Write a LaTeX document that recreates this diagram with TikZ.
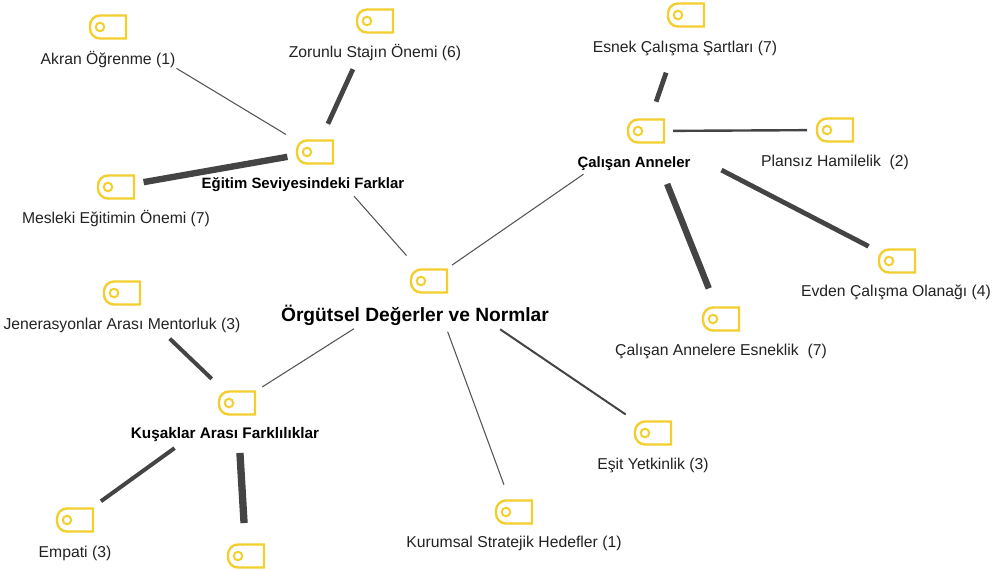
\documentclass[tikz,border=0pt]{standalone}
\usepackage{fontspec}
\setmainfont{Liberation Sans}
\definecolor{tagyellow}{HTML}{F2CE2E}
\definecolor{edgegray}{HTML}{555555}
\definecolor{edgedark}{HTML}{444444}
\definecolor{labelink}{HTML}{222222}
\tikzset{
  x=0.75pt,y=-0.75pt,
  tagbox/.style={minimum width=28.5pt,minimum height=18.75pt,inner sep=0pt,outer sep=0pt},
  tagline/.style={draw=tagyellow,line width=1.8pt},
  lab/.style={inner sep=0pt,text=labelink,font=\fontsize{11.8pt}{13pt}\selectfont},
  labbold/.style={lab,text=black,font=\fontsize{11.2pt}{13pt}\selectfont\bfseries},
  labroot/.style={lab,text=black,font=\fontsize{14.4pt}{16pt}\selectfont\bfseries},
  link/.style={edgegray},
  linkheavy/.style={edgedark},
}
\newcommand{\tagicon}[2]{%
  \node[tagbox] (#1) at (#2) {};
  \draw[tagline,shift={(#1.center)}] (18,-11.5) -- (-8,-11.5) arc[start angle=90,end angle=180,radius=7.5pt]
     -- (-18,1.5) arc[start angle=180,end angle=270,radius=7.5pt] -- (18,11.5) -- cycle;
  \draw[tagline,line width=1.5pt,shift={(#1.center)}] (-8,0) circle[radius=3.2pt];
}
\newcommand{\linkbetween}[6][link]{%
  \draw[#1,line width=#4pt,shorten <=#5*0.75pt,shorten >=#6*0.75pt] (#2.center) -- (#3.center);
}
\begin{document}
\begin{tikzpicture}
\useasboundingbox (0,0) rectangle (996,569);
\clip (0,0) rectangle (996,569);
\tagicon{root}{429,281}
\tagicon{egitim}{315,152}
\tagicon{calisan}{646,131}
\tagicon{kusak}{237,403}
\tagicon{akran}{108,27}
\tagicon{zorunlu}{375,21}
\tagicon{mesleki}{116,187}
\tagicon{esnek}{686,15}
\tagicon{plansiz}{835,130}
\tagicon{evden}{897,261}
\tagicon{cae}{721,319}
\tagicon{jener}{122,293}
\tagicon{empati}{75,520}
\tagicon{gizli}{246,556}
\tagicon{esit}{653,433}
\tagicon{kurumsal}{514,512}

\node[labroot] (lroot) at (415,315.5) {Örgütsel Değerler ve Normlar};
\node[labbold] (legitim) at (303,184.5) {Eğitim Seviyesindeki Farklar};
\node[labbold] (lcalisan) at (634,164) {Çalışan Anneler};
\node[labbold,font=\fontsize{11.5pt}{13pt}\selectfont\bfseries] (lkusak) at (225,435) {Kuşaklar Arası Farklılıklar};
\node[lab] (lakran) at (108,60) {Akran Öğrenme (1)};
\node[lab] (lzorunlu) at (375,53) {Zorunlu Stajın Önemi (6)};
\node[lab] (lmesleki) at (116,219) {Mesleki Eğitimin Önemi (7)};
\node[lab] (lesnek) at (685,48) {Esnek Çalışma Şartları (7)};
\node[lab] (lplansiz) at (835,162) {Plansız Hamilelik\ \ (2)};
\node[lab] (levden) at (896,292) {Evden Çalışma Olanağı (4)};
\node[lab] (lcae) at (721,351) {Çalışan Annelere Esneklik\ \ (7)};
\node[lab] (ljener) at (122,325) {Jenerasyonlar Arası Mentorluk (3)};
\node[lab] (lempati) at (75,553) {Empati (3)};
\node[lab] (lesit) at (653,465) {Eşit Yetkinlik (3)};
\node[lab] (lkurumsal) at (514,543) {Kurumsal Stratejik Hedefler (1)};

\linkbetween{root}{egitim}{0.8}{34}{59}
\linkbetween{root}{calisan}{0.8}{28}{76}
\linkbetween{root}{kusak}{0.8}{89}{30}
\linkbetween{root}{kurumsal}{0.8}{54}{29}
\linkbetween[linkheavy]{root}{esit}{1.5}{86}{33}
\linkbetween{egitim}{akran}{0.8}{34}{80}
\linkbetween[linkheavy]{egitim}{zorunlu}{3.6}{31}{53}
\linkbetween[linkheavy]{egitim}{mesleki}{4.8}{28}{28}
\linkbetween[linkheavy]{calisan}{esnek}{3.6}{31}{61}
\linkbetween[linkheavy]{calisan}{plansiz}{1.8}{27}{28}
\linkbetween[linkheavy]{calisan}{evden}{3.6}{85}{32}
\linkbetween[linkheavy]{calisan}{cae}{4.8}{57}{33}
\linkbetween[linkheavy]{kusak}{jener}{3}{35}{66}
\linkbetween[linkheavy]{kusak}{empati}{3}{77}{32}
\linkbetween[linkheavy]{kusak}{gizli}{5.5}{50}{33}
\end{tikzpicture}
\end{document}
